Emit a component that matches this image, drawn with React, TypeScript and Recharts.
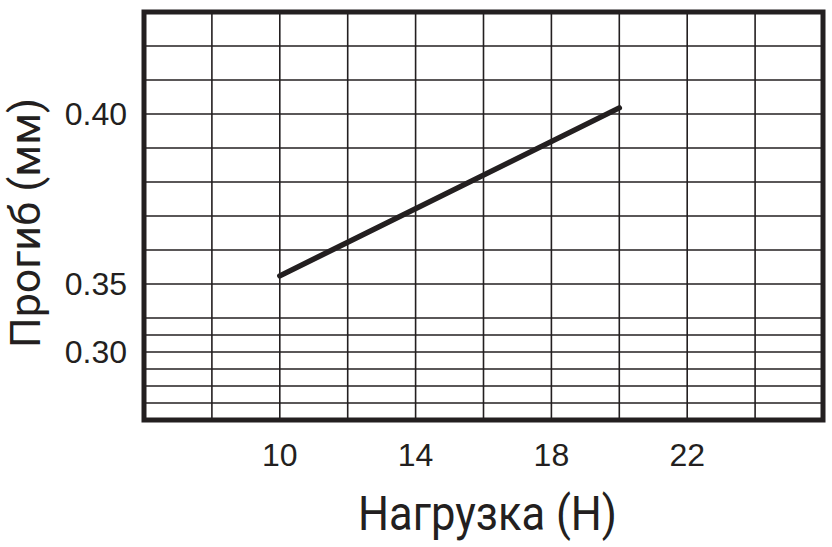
import React from "react";
import {
  LineChart,
  Line,
  XAxis,
  YAxis,
  CartesianGrid,
  ReferenceArea,
} from "recharts";

// measured points of the deflection line
const loads = [10, 20];
const deflections = [0.3524, 0.4018];

const xTicks = [6, 8, 10, 12, 14, 16, 18, 20, 22, 24, 26];
const xLabelTicks = [10, 14, 18, 22];

const yTicks = [
  0.25, 0.2625, 0.275, 0.2875, 0.3, 0.3125, 0.325, 0.35, 0.36, 0.37, 0.38,
  0.39, 0.4, 0.41, 0.42, 0.43,
];
const yLabelTicks = [0.3, 0.35, 0.4];

// the y axis is stretched above 0.35: value breaks and grid rows per span
const yBreaks = [0.25, 0.35, 0.43];
const yRows = [8, 16];

const data = loads.map((load, i) => ({ load, deflection: deflections[i] }));

const INK = "#231f20";

// piecewise linear scale, shaped like a d3 scale so recharts can use it
function stretchedScale(breaks: number[], rows: number[]): any {
  let domain = [breaks[0], breaks[breaks.length - 1]];
  let range = [0, 1];
  const total = rows.reduce((a, b) => a + b, 0);
  const scale: any = (v: number) => {
    let i = 0;
    while (i < rows.length - 1 && v > breaks[i + 1]) i++;
    const before = rows.slice(0, i).reduce((a, b) => a + b, 0);
    const t =
      (before + ((v - breaks[i]) / (breaks[i + 1] - breaks[i])) * rows[i]) /
      total;
    return range[0] + t * (range[1] - range[0]);
  };
  scale.domain = (d?: number[]) => {
    if (!d) return [...domain];
    domain = [...d];
    return scale;
  };
  scale.range = (r?: number[]) => {
    if (!r) return [...range];
    range = [...r];
    return scale;
  };
  scale.copy = () => stretchedScale(breaks, rows).domain(domain).range(range);
  scale.ticks = () => [...breaks];
  return scale;
}

const XTitle = ({ viewBox }: any) => (
  <text
    x={viewBox.x + viewBox.width / 2 + 4}
    y={530}
    textAnchor="middle"
    fill={INK}
    fontFamily="Roboto"
    fontSize={48}
    textLength={259}
    lengthAdjust="spacingAndGlyphs"
  >
    Нагрузка (Н)
  </text>
);

const YTitle = ({ viewBox }: any) => {
  const cx = 40;
  const cy = viewBox.y + viewBox.height / 2 + 7;
  return (
    <text
      transform={`translate(${cx}, ${cy}) rotate(-90)`}
      textAnchor="middle"
      fill={INK}
      fontFamily="Roboto"
      fontSize={43}
      textLength={250}
      lengthAdjust="spacingAndGlyphs"
    >
      Прогиб (мм)
    </text>
  );
};

const tickStyle = { fill: INK, fontSize: 32, fontFamily: "Liberation Sans" };

export default function App() {
  return (
    <div style={{ position: "absolute", left: 0, top: 0 }}>
      <LineChart
        width={832}
        height={547}
        data={data}
        margin={{ top: 12, right: 9, bottom: 0, left: 0 }}
      >
        <CartesianGrid stroke={INK} strokeWidth={1.6} />
        <XAxis
          dataKey="load"
          type="number"
          domain={[6, 26]}
          ticks={xTicks}
          interval={0}
          height={127}
          axisLine={false}
          tickLine={false}
          tickSize={0}
          tickMargin={23}
          tick={tickStyle}
          tickFormatter={(v: number) => (xLabelTicks.includes(v) ? String(v) : "")}
          label={XTitle}
        />
        <YAxis
          type="number"
          domain={[0.25, 0.43]}
          scale={stretchedScale(yBreaks, yRows)}
          ticks={yTicks}
          interval={0}
          width={144}
          axisLine={false}
          tickLine={false}
          tickSize={0}
          tickMargin={17}
          tick={tickStyle}
          tickFormatter={(v: number) =>
            yLabelTicks.includes(v) ? v.toFixed(2) : ""
          }
          label={YTitle}
        />
        <ReferenceArea
          x1={6}
          x2={26}
          y1={0.25}
          y2={0.43}
          fill="none"
          stroke={INK}
          strokeWidth={5}
          ifOverflow="visible"
        />
        <Line
          dataKey="deflection"
          stroke={INK}
          strokeWidth={5.5}
          strokeLinecap="round"
          dot={false}
          isAnimationActive={false}
        />
      </LineChart>
    </div>
  );
}
